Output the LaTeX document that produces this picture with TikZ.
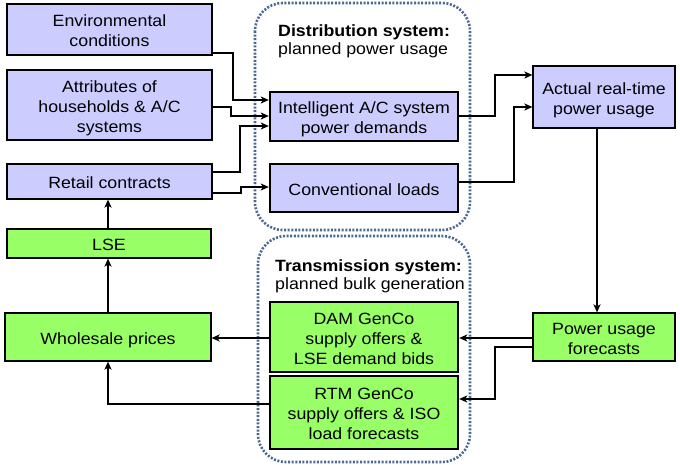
\documentclass[tikz,border=0pt]{standalone}
\usepackage{fontspec}
\setmainfont{Liberation Sans}[FakeStretch=1.09]
\usetikzlibrary{arrows.meta}
\definecolor{lav}{HTML}{CCCCFF}
\definecolor{grn}{HTML}{99FF66}
\definecolor{dotc}{HTML}{4A6890}
\newcommand\topS{\rule{0pt}{18.2pt}}
\newcommand\botS{\rule[-3.5pt]{0pt}{3.5pt}}
\begin{document}
\begin{tikzpicture}[x=1pt,y=-1pt,
  box/.style={draw=black,line width=1.2pt,inner sep=0pt,align=center,font=\fontsize{16.3}{20}\selectfont},
  thick box/.style={box,line width=2.4pt},
  arrL/.style={line width=1.8pt,-{Stealth[length=8pt,width=7pt,inset=2pt]}},
  arrR/.style={line width=1.3pt,-{Stealth[length=8pt,width=7pt,inset=2pt]}},
  group/.style={draw=dotc,line width=2.6pt,dash pattern=on 2pt off 1.6pt,rounded corners=28pt},
  ttl/.style={inner sep=0pt,anchor=base west,font=\fontsize{16.3}{20}\selectfont},
  bttl/.style={ttl,font=\fontsize{16.3}{20}\selectfont\bfseries}]
\useasboundingbox (0,0) rectangle (680,464);
% dotted groups
\draw[group] (255,3) rectangle (470,230);
\draw[group] (258,236) rectangle (470,462);
\node[bttl] (dt) at (278,36) {Distribution system:};
\node[ttl] (dp) at (278,54.5) {planned power usage};
\node[bttl] (tt) at (275,271) {Transmission system:};
\node[ttl] (tp) at (275,289.5) {planned bulk generation};
% boxes
\node[box,fill=lav,minimum width=205pt,minimum height=51pt] (env) at (109.5,29.5) {\topS Environmental\\conditions\botS};
\node[box,fill=lav,minimum width=205pt,minimum height=70pt] (attr) at (109.5,105) {\topS Attributes of\\households \& A/C\\systems\botS};
\node[box,fill=lav,minimum width=205pt,minimum height=35pt] (retail) at (109.5,181.5) {\topS Retail contracts\botS};
\node[box,fill=grn,minimum width=204pt,minimum height=29pt] (lse) at (109,243.5) {\topS LSE\botS};
\node[box,fill=grn,minimum width=206pt,minimum height=48pt] (whole) at (108,337) {\topS Wholesale prices\botS};
\node[thick box,fill=lav,minimum width=188pt,minimum height=49pt] (intel) at (364,116.5) {\topS Intelligent A/C system\\power demands\botS};
\node[thick box,fill=lav,minimum width=188pt,minimum height=48pt] (conv) at (364,188) {\topS Conventional loads\botS};
\node[box,fill=lav,minimum width=142pt,minimum height=62pt] (actual) at (604,97) {\topS Actual real-time\\power usage\botS};
\node[box,fill=grn,minimum width=142pt,minimum height=48pt] (puf) at (604,337) {\topS Power usage\\forecasts\botS};
\node[thick box,fill=grn,minimum width=188pt,minimum height=70pt] (dam) at (364,337) {\topS DAM GenCo\\supply offers \&\\LSE demand bids\botS};
\node[thick box,fill=grn,minimum width=188pt,minimum height=73pt] (rtm) at (364,412.5) {\topS RTM GenCo\\supply offers \& ISO\\load forecasts\botS};
% connectors
\draw[arrL] (env.east |- 0,53) -| (233,100) -- (intel.west |- 0,100);
\draw[arrL] (attr.east |- 0,107) -| (231,116) -- (intel.west |- 0,116);
\draw[arrR] (retail.east |- 0,172) -| (240,126) -- (intel.west |- 0,126);
\draw[arrR] (retail.east |- 0,193) -| (241,187) -- (conv.west |- 0,187);
\draw[arrR] (intel.east |- 0,116) -| (495,75) -- (actual.west |- 0,75);
\draw[arrR] (conv.east |- 0,182) -| (514,107) -- (actual.west |- 0,107);
\draw[arrL] (actual.south -| 597,0) -- (puf.north -| 597,0);
\draw[arrL] (puf.west |- 0,338) -- (dam.east |- 0,338);
\draw[arrR] (puf.west |- 0,347) -| (495,399) -- (rtm.east |- 0,399);
\draw[arrL] (dam.west |- 0,338) -- (whole.east |- 0,338);
\draw[arrL] (rtm.west |- 0,404) -| (whole.south);
\draw[arrL] (whole.north) -- (lse.south -| whole.north);
\draw[arrL] (lse.north -| whole.north) -- (retail.south -| whole.north);
\end{tikzpicture}
\end{document}
